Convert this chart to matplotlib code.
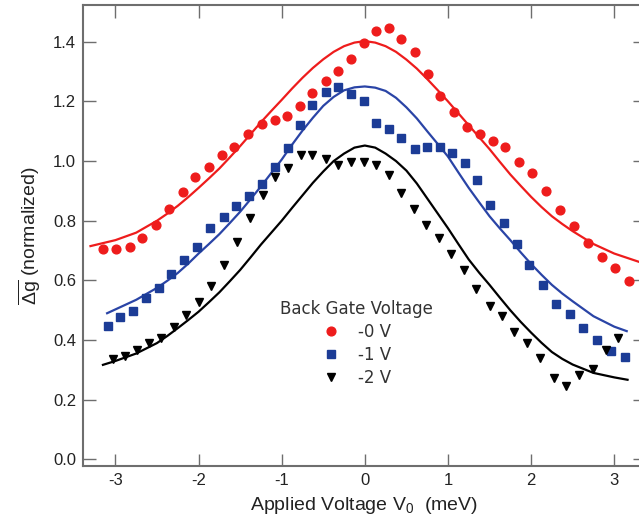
import matplotlib
matplotlib.use("Agg")
import matplotlib.pyplot as plt

# measured points
red_x = [-3.15, -2.99, -2.83, -2.68, -2.51, -2.35, -2.19, -2.04, -1.88, -1.72, -1.57, -1.40, -1.24, -1.08,
         -0.94, -0.78, -0.63, -0.47, -0.32, -0.17, -0.01, 0.14, 0.29, 0.44, 0.60, 0.76, 0.91, 1.07, 1.23,
         1.38, 1.54, 1.69, 1.85, 2.01, 2.18, 2.35, 2.51, 2.68, 2.85, 3.01, 3.18]
red_y = [0.706, 0.706, 0.713, 0.741, 0.786, 0.839, 0.897, 0.948, 0.981, 1.020, 1.048, 1.089, 1.125, 1.139,
         1.150, 1.186, 1.228, 1.267, 1.302, 1.341, 1.394, 1.437, 1.447, 1.408, 1.364, 1.292, 1.219, 1.163,
         1.114, 1.091, 1.067, 1.047, 0.998, 0.959, 0.898, 0.837, 0.781, 0.724, 0.678, 0.641, 0.597]

blue_x = [-3.09, -2.94, -2.79, -2.63, -2.48, -2.33, -2.17, -2.02, -1.86, -1.70, -1.55, -1.39, -1.24, -1.08,
          -0.92, -0.78, -0.63, -0.47, -0.32, -0.17, -0.01, 0.14, 0.29, 0.44, 0.60, 0.75, 0.90, 1.05, 1.21,
          1.35, 1.50, 1.67, 1.83, 1.97, 2.14, 2.30, 2.47, 2.63, 2.79, 2.96, 3.13]
blue_y = [0.448, 0.478, 0.498, 0.541, 0.574, 0.622, 0.670, 0.711, 0.776, 0.814, 0.848, 0.883, 0.922, 0.981,
          1.044, 1.122, 1.189, 1.231, 1.248, 1.224, 1.200, 1.128, 1.106, 1.078, 1.039, 1.048, 1.048, 1.028,
          0.994, 0.937, 0.853, 0.791, 0.722, 0.650, 0.586, 0.522, 0.486, 0.441, 0.400, 0.364, 0.342]

black_x = [-3.03, -2.89, -2.74, -2.60, -2.45, -2.30, -2.15, -1.99, -1.85, -1.69, -1.54, -1.38, -1.23, -1.08,
           -0.93, -0.77, -0.63, -0.47, -0.32, -0.17, -0.01, 0.14, 0.29, 0.44, 0.59, 0.74, 0.89, 1.04, 1.19,
           1.34, 1.50, 1.65, 1.79, 1.95, 2.11, 2.27, 2.42, 2.58, 2.74, 2.90, 3.05]
black_y = [0.337, 0.348, 0.367, 0.389, 0.406, 0.444, 0.483, 0.528, 0.580, 0.652, 0.730, 0.808, 0.887, 0.948,
           0.976, 1.020, 1.020, 1.008, 0.987, 0.998, 0.998, 0.987, 0.953, 0.894, 0.839, 0.786, 0.742, 0.687,
           0.636, 0.570, 0.514, 0.480, 0.426, 0.389, 0.341, 0.272, 0.247, 0.283, 0.302, 0.367, 0.406]

# fit curves
fit_x = [-2.5, -2.375, -2.25, -2.125, -2.0, -1.875, -1.75, -1.625, -1.5, -1.375, -1.25, -1.125, -1.0,
         -0.875, -0.75, -0.625, -0.5, -0.375, -0.25, -0.125, 0.0, 0.125, 0.25, 0.375, 0.5, 0.625, 0.75,
         0.875, 1.0, 1.125, 1.25, 1.375, 1.5, 1.625, 1.75, 1.875, 2.0, 2.125, 2.25, 2.375, 2.5]

red_fit_x = [-3.3, -3.0, -2.75] + fit_x + [2.75, 3.0, 3.3]
red_fit_y = [0.715, 0.735, 0.760,
             0.800, 0.824, 0.850, 0.879, 0.910, 0.942, 0.975, 1.012, 1.050, 1.090, 1.130, 1.168, 1.205,
             1.243, 1.279, 1.312, 1.341, 1.366, 1.385, 1.397, 1.402, 1.397, 1.385, 1.366, 1.340, 1.310, 1.275,
             1.238, 1.200, 1.160, 1.120, 1.080, 1.040, 0.997, 0.955, 0.917, 0.880, 0.846, 0.815, 0.789, 0.765,
             0.722, 0.690, 0.662]

blue_fit_x = [-3.1, -2.75] + fit_x + [2.75, 3.0, 3.15]
blue_fit_y = [0.490, 0.535,
              0.575, 0.599, 0.625, 0.656, 0.690, 0.722, 0.755, 0.792, 0.830, 0.872, 0.915, 0.960, 1.005,
              1.055, 1.102, 1.145, 1.185, 1.215, 1.237, 1.247, 1.250, 1.246, 1.235, 1.212, 1.180, 1.143, 1.100,
              1.058, 1.015, 0.962, 0.910, 0.862, 0.815, 0.774, 0.735, 0.694, 0.655, 0.619, 0.585, 0.556, 0.530,
              0.480, 0.445, 0.430]

black_fit_x = [-3.15, -3.0, -2.75] + fit_x + [2.75, 3.0, 3.16]
black_fit_y = [0.317, 0.330, 0.355,
               0.390, 0.414, 0.440, 0.467, 0.495, 0.527, 0.560, 0.597, 0.635, 0.677, 0.720, 0.760, 0.800,
               0.843, 0.885, 0.927, 0.965, 1.000, 1.025, 1.045, 1.052, 1.045, 1.025, 1.000, 0.968, 0.925, 0.875,
               0.825, 0.775, 0.722, 0.670, 0.626, 0.585, 0.542, 0.500, 0.461, 0.425, 0.391, 0.360, 0.337, 0.318,
               0.290, 0.275, 0.267]

labels = ['-0 V', '-1 V', '-2 V']
x_ticks = [-3, -2, -1, 0, 1, 2, 3]
y_ticks = [0.0, 0.2, 0.4, 0.6, 0.8, 1.0, 1.2, 1.4]

RED = '#ee1c1c'
BLUE = '#1c3c96'
BLUE_LINE = '#2a44a6'
GREY = '#6e6e6e'


def draw_pic():
    plt.rcParams['mathtext.fontset'] = 'custom'
    plt.rcParams['mathtext.rm'] = 'Liberation Sans'
    plt.rcParams['mathtext.it'] = 'Liberation Sans:italic'

    fig = plt.figure(figsize=(6.39, 5.28), dpi=100)
    ax = fig.add_axes([83 / 639, 62 / 528, 562 / 639, 461 / 528])

    ax.plot(red_fit_x, red_fit_y, color=RED, lw=1.6)
    ax.plot(blue_fit_x, blue_fit_y, color=BLUE_LINE, lw=1.6)
    ax.plot(black_fit_x, black_fit_y, color='black', lw=1.6)

    ax.plot(red_x, red_y, 'o', color=RED, ms=6.3, ls='none', label=labels[0])
    ax.plot(blue_x, blue_y, 's', color=BLUE, ms=5.6, ls='none', label=labels[1])
    ax.plot(black_x, black_y, 'v', color='black', ms=6.3, ls='none', label=labels[2])

    ax.set_xlim(-3.39, 3.37)
    ax.set_ylim(-0.022, 1.523)
    ax.set_xticks(x_ticks)
    ax.set_xticklabels([str(t) for t in x_ticks])
    ax.set_yticks(y_ticks)
    ax.set_yticklabels(['%.1f' % t for t in y_ticks])

    ax.tick_params(direction='in', length=9, width=1, color=GREY, top=True, right=True,
                   labelsize=12, pad=5)
    for lab in ax.get_xticklabels() + ax.get_yticklabels():
        lab.set_family('Liberation Sans')
        lab.set_color('#222222')
    for sp in ax.spines.values():
        sp.set_color(GREY)
        sp.set_linewidth(1.5)

    ax.set_xlabel(r'Applied Voltage V$_{\mathit{0}}$  (meV)', family='Liberation Sans',
                  fontsize=14, color='#222222', labelpad=5)
    ax.set_ylabel(r'$\overline{\Delta \mathrm{g}}$ (normalized)', family='Liberation Sans',
                  fontsize=14, color='#222222', labelpad=7)

    leg = ax.legend(title='Back Gate Voltage', loc='upper left', bbox_to_anchor=(0.336, 0.379),
                    frameon=False, fontsize=12, title_fontsize=12, handlelength=1.0,
                    handletextpad=1.1, labelspacing=0.3, borderpad=0)
    for t in leg.get_texts():
        t.set_color('#333333')
    leg.get_title().set_color('#333333')

    fig.savefig('out.png', dpi=100)


if __name__ == "__main__":
    draw_pic()
